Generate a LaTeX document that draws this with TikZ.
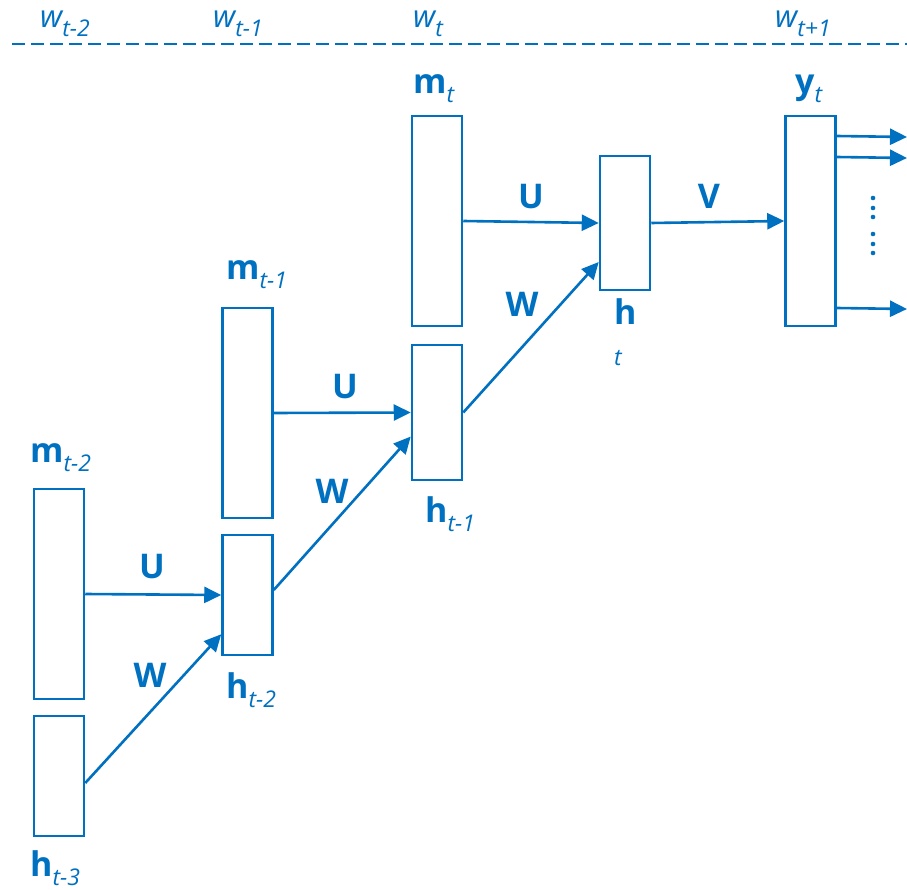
\documentclass[tikz,border=0pt]{standalone}
\usepackage{fontspec}
\setmainfont{Open Sans}
\usetikzlibrary{arrows.meta}
\definecolor{netblue}{HTML}{0070C0}
\newcommand{\sublab}[1]{{\fontsize{23}{23}\selectfont\itshape\raisebox{-9pt}{#1}}}
\begin{document}
\begin{tikzpicture}[x=1pt,y=-1pt,
    layer/.style={draw=netblue,line width=2.5pt,minimum width=50pt,inner sep=0pt},
    conn/.style={draw=netblue,line width=2.6pt,-{Triangle[length=17pt,width=16pt]}},
    lbl/.style={text=netblue,inner sep=0pt,font=\fontsize{34}{34}\selectfont},
    wlbl/.style={text=netblue,inner sep=0pt,anchor=base west,font=\fontsize{31}{31}\selectfont\itshape}]
    \useasboundingbox (0,0) rectangle (907,890);

    \node[layer,minimum height=210pt] (m2) at (59,594) {};
    \node[layer,minimum height=120pt] (h3) at (59,776) {};
    \node[layer,minimum height=210pt] (m1) at (247.5,413) {};
    \node[layer,minimum height=120pt] (h2) at (247.5,595) {};
    \node[layer,minimum height=210pt] (m0) at (437,221) {};
    \node[layer,minimum height=135pt] (h1) at (437,412.5) {};
    \node[layer,minimum height=134pt] (h0) at (625,223) {};
    \node[layer,minimum height=210pt] (y0) at (810.5,221) {};

    \coordinate (o1) at (907,137);
    \coordinate (o2) at (907,158);
    \coordinate (o3) at (907,309);

    \draw[netblue,line width=2.4pt,dash pattern=on 13pt off 6pt] (12,44) -- (907,44);

    \draw[conn] (m2.east) -- (h2.west);
    \draw[conn] ([yshift=-7pt]h3.east) -- ([yshift=22pt]h2.south west);
    \draw[conn] (m1.east) -- (h1.west);
    \draw[conn] ([yshift=5pt]h2.east) -- ([yshift=-24pt]h1.west);
    \draw[conn] (m0.east) -- (h0.west);
    \draw[conn] (h1.east) -- ([yshift=-39pt]h0.west);
    \draw[conn] (h0.east) -- (y0.west);
    \draw[conn] ([yshift=85pt]y0.east) -- (o1);
    \draw[conn] ([yshift=64pt]y0.east) -- (o2);
    \draw[conn] ([yshift=-87pt]y0.east) -- (o3);

    \foreach \y in {198,208,217,234,244,253}
        \fill[netblue] (873,\y) circle (2.3pt);

    \node[wlbl] (w2) at (40,28) {w\sublab{t-2}};
    \node[wlbl] (w1) at (213,28) {w\sublab{t-1}};
    \node[wlbl] (w0) at (413,28) {w\sublab{t}};
    \node[wlbl] (wn) at (775,28) {w\sublab{t+1}};

    \node[lbl,anchor=base west] (lm0) at (413,94) {\textbf{m}\sublab{t}};
    \node[lbl,anchor=base west] (ly0) at (795,94) {\textbf{y}\sublab{t}};
    \node[lbl,anchor=base west] (lm1) at (226,280) {\textbf{m}\sublab{t-1}};
    \node[lbl,anchor=base west] (lm2) at (30,462) {\textbf{m}\sublab{t-2}};
    \node[lbl,anchor=base west] (lh3) at (30,876) {\textbf{h}\sublab{t-3}};
    \node[lbl,anchor=base west] (lh2) at (226,698) {\textbf{h}\sublab{t-2}};
    \node[lbl,anchor=base west] (lh1) at (425,522) {\textbf{h}\sublab{t-1}};
    \node[lbl,anchor=base west] (lh0) at (614,325) {\textbf{h}};
    \node[lbl,anchor=base west] (lt0) at (614,365) {\sublab{\raisebox{9pt}{t}}};

    \node[lbl,anchor=base] (u2) at (152,578) {\textbf{U}};
    \node[lbl,anchor=base] (u1) at (345,398) {\textbf{U}};
    \node[lbl,anchor=base] (u0) at (531,209) {\textbf{U}};
    \node[lbl,anchor=base] (v0) at (709,209) {\textbf{V}};
    \node[lbl,anchor=base] (wa) at (150,687) {\textbf{W}};
    \node[lbl,anchor=base] (wb) at (332,503) {\textbf{W}};
    \node[lbl,anchor=base] (wc) at (522,317) {\textbf{W}};
\end{tikzpicture}
\end{document}
